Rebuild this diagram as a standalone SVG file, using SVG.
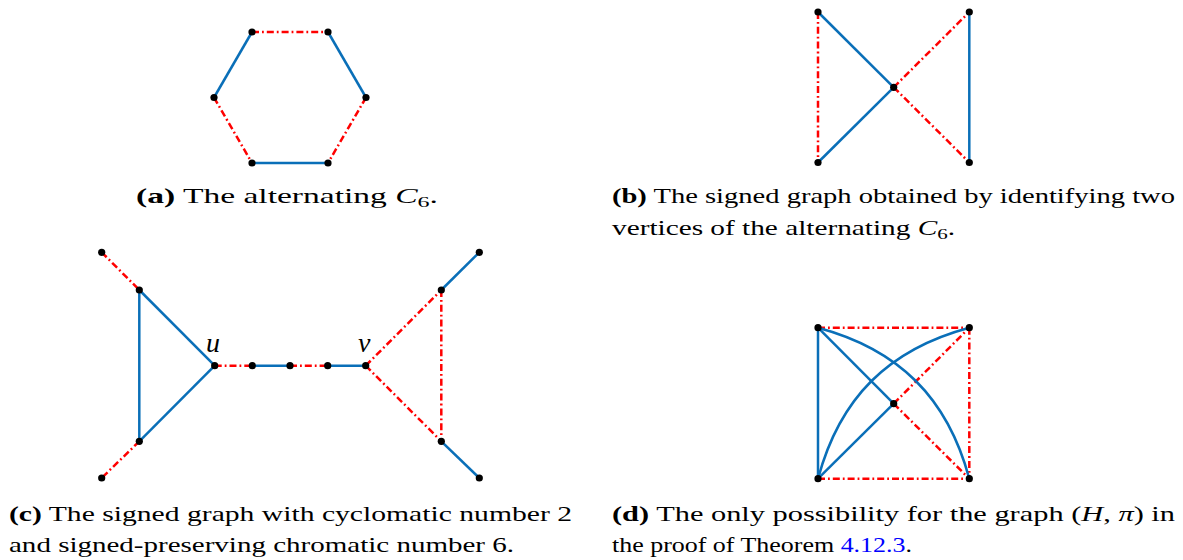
<svg xmlns="http://www.w3.org/2000/svg" width="1183" height="560" viewBox="0 0 1183 560">
<style>
.b{stroke:#0a6fb8;stroke-width:2.5;fill:none}
.r{stroke:#ff0000;stroke-width:2.5;fill:none;stroke-dasharray:7 3 1.8 3}
.n{fill:#000}
.cap{font-size:21px;fill:#000}
.bf{font-weight:bold}
.it{font-style:italic}
.lab{font-size:28px;font-style:italic;fill:#000}
</style>
<rect width="1183" height="560" fill="#fff"/>
<g id="connectors">
<line class="r" x1="252" y1="32" x2="328" y2="32"/>
<line class="b" x1="328" y1="32" x2="366" y2="97.5"/>
<line class="r" x1="366" y1="97.5" x2="328" y2="163"/>
<line class="b" x1="328" y1="163" x2="252" y2="163"/>
<line class="r" x1="214" y1="97.5" x2="252" y2="163"/>
<line class="b" x1="252" y1="32" x2="214" y2="97.5"/>
<line class="r" x1="818" y1="12" x2="818" y2="162.5"/>
<line class="b" x1="818" y1="12" x2="893.7" y2="87.3"/>
<line class="b" x1="893.7" y1="87.3" x2="818" y2="162.5"/>
<line class="b" x1="969.3" y1="12" x2="969.3" y2="162.5"/>
<line class="r" x1="893.7" y1="87.3" x2="969.3" y2="12"/>
<line class="r" x1="893.7" y1="87.3" x2="969.3" y2="162.5"/>
<line class="r" x1="101.7" y1="252.3" x2="139.3" y2="290"/>
<line class="b" x1="139.3" y1="290" x2="139.3" y2="441.3"/>
<line class="b" x1="139.3" y1="290" x2="214.7" y2="365.7"/>
<line class="b" x1="139.3" y1="441.3" x2="214.7" y2="365.7"/>
<line class="r" x1="139.3" y1="441.3" x2="101.7" y2="478"/>
<line class="r" x1="214.7" y1="365.7" x2="252.3" y2="365.7"/>
<line class="b" x1="252.3" y1="365.7" x2="290" y2="365.7"/>
<line class="r" x1="290" y1="365.7" x2="327.7" y2="365.7"/>
<line class="b" x1="327.7" y1="365.7" x2="365.7" y2="365.7"/>
<line class="r" x1="365.7" y1="365.7" x2="441.3" y2="290"/>
<line class="r" x1="365.7" y1="365.7" x2="441.3" y2="441.3"/>
<line class="r" x1="441.3" y1="290" x2="441.3" y2="441.3"/>
<line class="b" x1="441.3" y1="290" x2="479.3" y2="252.3"/>
<line class="b" x1="441.3" y1="441.3" x2="479.3" y2="478"/>
<line class="r" x1="818" y1="327.7" x2="969.3" y2="327.7"/>
<line class="r" x1="969.3" y1="327.7" x2="969.3" y2="478.7"/>
<line class="r" x1="818" y1="478.7" x2="969.3" y2="478.7"/>
<line class="r" x1="893.7" y1="403.7" x2="969.3" y2="327.7"/>
<line class="r" x1="893.7" y1="403.7" x2="969.3" y2="478.7"/>
<line class="b" x1="818" y1="327.7" x2="818" y2="478.7"/>
<line class="b" x1="818" y1="327.7" x2="893.7" y2="403.7"/>
<line class="b" x1="893.7" y1="403.7" x2="818" y2="478.7"/>
<path class="b" d="M818,327.7 C898.9,349.4 947.6,397.8 969.3,478.7"/>
<path class="b" d="M969.3,327.7 C888.4,349.4 839.7,397.8 818,478.7"/>
</g>
<g id="nodes-a">
<circle class="n" cx="252" cy="32" r="3.6"/><circle class="n" cx="328" cy="32" r="3.6"/>
<circle class="n" cx="366" cy="97.5" r="3.6"/><circle class="n" cx="328" cy="163" r="3.6"/>
<circle class="n" cx="252" cy="163" r="3.6"/><circle class="n" cx="214" cy="97.5" r="3.6"/>
</g>
<g id="nodes-b">
<circle class="n" cx="818" cy="12" r="3.6"/><circle class="n" cx="969.3" cy="12" r="3.6"/>
<circle class="n" cx="893.7" cy="87.3" r="3.6"/>
<circle class="n" cx="818" cy="162.5" r="3.6"/><circle class="n" cx="969.3" cy="162.5" r="3.6"/>
</g>
<g id="nodes-c">
<circle class="n" cx="101.7" cy="252.3" r="3.6"/><circle class="n" cx="139.3" cy="290" r="3.6"/>
<circle class="n" cx="139.3" cy="441.3" r="3.6"/><circle class="n" cx="101.7" cy="478" r="3.6"/>
<circle class="n" cx="214.7" cy="365.7" r="3.6"/><circle class="n" cx="252.3" cy="365.7" r="3.6"/>
<circle class="n" cx="290" cy="365.7" r="3.6"/><circle class="n" cx="327.7" cy="365.7" r="3.6"/>
<circle class="n" cx="365.7" cy="365.7" r="3.6"/>
<circle class="n" cx="441.3" cy="290" r="3.6"/><circle class="n" cx="441.3" cy="441.3" r="3.6"/>
<circle class="n" cx="479.3" cy="252.3" r="3.6"/><circle class="n" cx="479.3" cy="478" r="3.6"/>
<text class="lab" font-family="'Liberation Serif', 'DejaVu Serif', serif" x="206" y="352">u</text>
<text class="lab" font-family="'Liberation Serif', 'DejaVu Serif', serif" x="358" y="352">v</text>
</g>
<g id="nodes-d">
<circle class="n" cx="818" cy="327.7" r="3.6"/><circle class="n" cx="969.3" cy="327.7" r="3.6"/>
<circle class="n" cx="893.7" cy="403.7" r="3.6"/>
<circle class="n" cx="818" cy="478.7" r="3.6"/><circle class="n" cx="969.3" cy="478.7" r="3.6"/>
</g>
<g id="captions" font-family="'Liberation Serif', 'DejaVu Serif', serif">
<text class="cap" x="136" y="203" textLength="302" lengthAdjust="spacingAndGlyphs"><tspan class="bf">(a)</tspan> The alternating <tspan class="it">C</tspan><tspan font-size="15" dy="4">6</tspan><tspan dy="-4">.</tspan></text>
<text class="cap" x="612" y="203" textLength="563" lengthAdjust="spacingAndGlyphs"><tspan class="bf">(b)</tspan> The signed graph obtained by identifying two</text>
<text class="cap" x="612" y="235" textLength="343" lengthAdjust="spacingAndGlyphs">vertices of the alternating <tspan class="it">C</tspan><tspan font-size="15" dy="4">6</tspan><tspan dy="-4">.</tspan></text>
<text class="cap" x="9" y="521" textLength="563" lengthAdjust="spacingAndGlyphs"><tspan class="bf">(c)</tspan> The signed graph with cyclomatic number 2</text>
<text class="cap" x="9" y="552" textLength="505" lengthAdjust="spacingAndGlyphs">and signed-preserving chromatic number 6.</text>
<text class="cap" x="612" y="521" textLength="563" lengthAdjust="spacingAndGlyphs"><tspan class="bf">(d)</tspan> The only possibility for the graph (<tspan class="it">H</tspan>, <tspan class="it">π</tspan>) in</text>
<text class="cap" x="612" y="552" textLength="300" lengthAdjust="spacingAndGlyphs">the proof of Theorem <tspan fill="#0000ff">4.12.3</tspan>.</text>
</g>
</svg>
